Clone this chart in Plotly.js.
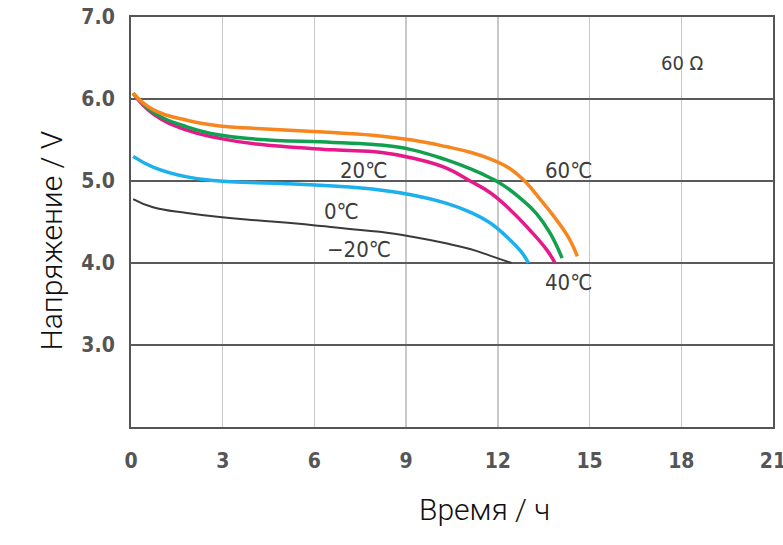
<!DOCTYPE html>
<html><head><meta charset="utf-8">
<script src="https://cdn.plot.ly/plotly-3.0.1.min.js"></script>
<style>body{margin:0;background:#fff}</style></head>
<body><div id="chart" style="width:783px;height:545px"></div>
<script>
// Time (h) and voltage (V) for each temperature series
const t60 = [0.07, 0.72, 1.83, 2.9, 4.1, 6.6, 8.14, 9.2, 10.3, 11.09, 11.74, 12.4, 12.9, 13.4, 13.93, 14.36, 14.6];
const v60 = [6.07, 5.87, 5.74, 5.67, 5.64, 5.59, 5.55, 5.50, 5.42, 5.35, 5.27, 5.15, 4.99, 4.77, 4.52, 4.28, 4.08];
const t40 = [0.07, 0.72, 1.83, 2.9, 4.1, 6.6, 8.14, 9.2, 10.3, 11.09, 11.74, 12.17, 12.7, 13.27, 13.7, 14.1];
const v40 = [6.07, 5.84, 5.66, 5.56, 5.51, 5.47, 5.44, 5.38, 5.26, 5.15, 5.04, 4.95, 4.80, 4.60, 4.37, 4.06];
const t20 = [0.07, 0.72, 1.83, 2.9, 4.1, 6.6, 8.14, 9.2, 10.3, 11.09, 11.74, 12.4, 13.05, 13.6, 13.87];
const v20 = [6.07, 5.82, 5.62, 5.52, 5.45, 5.38, 5.35, 5.28, 5.16, 5.00, 4.86, 4.65, 4.40, 4.16, 4.00];
const t0 = [0.07, 0.72, 1.83, 2.9, 4.1, 5.5, 7.0, 8.14, 9.2, 10.3, 11.09, 11.74, 12.4, 12.8, 13.0];
const v0 = [5.30, 5.17, 5.05, 5.00, 4.98, 4.96, 4.93, 4.89, 4.83, 4.73, 4.62, 4.49, 4.28, 4.12, 4.00];
const tm20 = [0.07, 0.72, 1.83, 2.9, 4.1, 5.5, 7.0, 8.14, 9.2, 10.3, 11.09, 11.74, 12.45];
const vm20 = [4.78, 4.68, 4.61, 4.56, 4.52, 4.48, 4.42, 4.38, 4.32, 4.24, 4.17, 4.09, 4.00];
const xTicks = [0, 3, 6, 9, 12, 15, 18, 21];
const yTicks = [3, 4, 5, 6, 7];
const yTickText = ["3.0", "4.0", "5.0", "6.0", "7.0"];
const labels = ["60 Ω", "60℃", "40℃", "20℃", "0℃", "−20℃"];
const labelX = [18.05, 14.3, 14.3, 7.6, 6.9, 7.45];
const labelY = [6.44, 5.13, 3.76, 5.13, 4.63, 4.16];

const mk = (x, y, color, w) => ({x, y, type: 'scatter', mode: 'lines',
  line: {color, width: w, shape: 'spline', smoothing: 1.3, simplify: false}, hoverinfo: 'skip'});
const data = [
  mk(tm20, vm20, '#3a3a3a', 2),
  mk(t0, v0, '#1cb0ec', 3.5),
  mk(t20, v20, '#e5198a', 3.5),
  mk(t40, v40, '#11a04f', 3.5),
  mk(t60, v60, '#f7861f', 3.5)
];
const narrow = 'Liberation Sans Narrow, DejaVu Sans Condensed, sans-serif';
const tickFont = {family: narrow, size: 21, weight: 600, color: '#555'};
const L = 131, R = 10, T = 17, B = 118, W = 783, H = 545;
const annotations = labels.map((s, i) => ({x: labelX[i], y: labelY[i], xref: 'x', yref: 'y',
  text: s, showarrow: false, font: {family: narrow, size: i === 0 ? 20 : 22, color: '#3d3d3d'}}));
annotations.push({x: (485 - L) / (W - L - R), y: -(529 - (H - B)) / (H - T - B), xref: 'paper', yref: 'paper',
  text: 'Время / ч', showarrow: false,
  font: {family: 'Roboto, Liberation Sans, sans-serif', size: 30, weight: 300, color: '#111'}});
annotations.push({x: -(L - 31) / (W - L - R), y: ((H - B) - 241) / (H - T - B), xref: 'paper', yref: 'paper',
  text: 'Напряжение / V', showarrow: false, textangle: -90,
  font: {family: 'Roboto, Liberation Sans, sans-serif', size: 30, weight: 300, color: '#111'}});

const layout = {
  width: W, height: H, margin: {l: L, r: R, t: T, b: B},
  paper_bgcolor: '#fff', plot_bgcolor: '#fff', showlegend: false,
  xaxis: {range: [0, 21], tickvals: xTicks, showgrid: true, gridcolor: '#c8c8c8', gridwidth: 1.5,
    showline: true, linecolor: '#555', linewidth: 2, mirror: true, zeroline: false,
    ticks: '', ticklabelstandoff: 14, ticklabeloverflow: 'allow', tickfont: tickFont},
  yaxis: {range: [2, 7], tickvals: yTicks, ticktext: yTickText, showgrid: true, gridcolor: '#5a5a5a', gridwidth: 1.5,
    showline: true, linecolor: '#555', linewidth: 2, mirror: true, zeroline: false,
    ticks: '', ticklabelstandoff: 10, ticklabeloverflow: 'allow', tickfont: tickFont},
  annotations
};
Plotly.newPlot('chart', data, layout, {displayModeBar: false, staticPlot: true});
</script></body></html>
